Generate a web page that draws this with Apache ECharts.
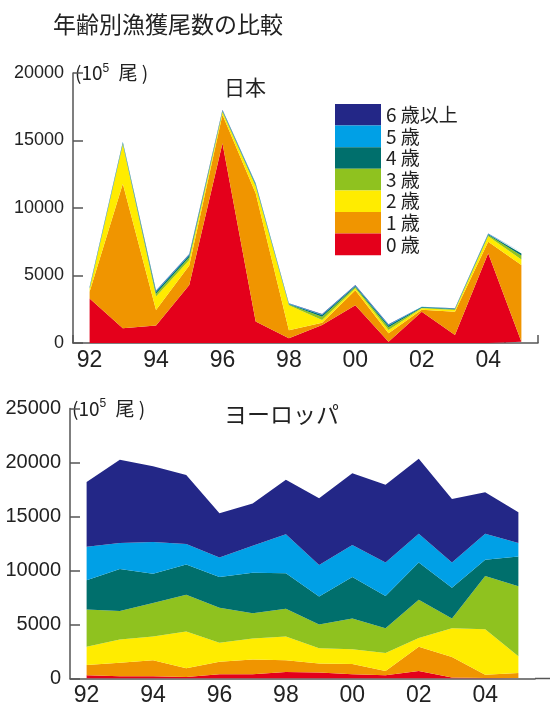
<!DOCTYPE html>
<html lang="ja">
<head>
<meta charset="utf-8">
<title>年齢別漁獲尾数の比較</title>
<script src="https://cdn.jsdelivr.net/npm/echarts@6/dist/echarts.min.js"></script>
<style>
  html, body { margin: 0; padding: 0; background: #fff; }
  #main { width: 550px; height: 711px; }
</style>
</head>
<body>
<div id="main"></div>
<script>
// 年（横軸）
var years = ['92','93','94','95','96','97','98','99','00','01','02','03','04','05'];
var ages = ['0 歳','1 歳','2 歳','3 歳','4 歳','5 歳','6 歳以上'];
var colors = ['#e4001b','#f09500','#ffec00','#8fc21f','#006f6c','#00a0e6','#232787'];

// 日本（10^5 尾）
var jp0 = [3300, 1100, 1300, 4300, 14800, 1600, 350, 1330, 2800, 100, 2320, 590, 6650, 100];
var jp1 = [500, 10700, 1150, 1450, 2100, 9500, 600, 170, 1100, 620, 150, 1730, 850, 5680];
var jp2 = [200, 2900, 1000, 400, 200, 500, 1850, 200, 150, 250, 100, 130, 400, 400];
var jp3 = [60, 80, 200, 200, 60, 80, 50, 250, 100, 200, 50, 50, 100, 300];
var jp4 = [50, 60, 150, 150, 50, 80, 40, 120, 70, 120, 40, 40, 60, 150];
var jp5 = [30, 40, 50, 60, 40, 50, 30, 50, 40, 60, 20, 20, 40, 80];
var jp6 = [20, 20, 30, 30, 30, 30, 20, 30, 30, 30, 10, 10, 20, 40];

// ヨーロッパ（10^5 尾）
var eu0 = [300, 200, 200, 150, 400, 400, 600, 550, 400, 300, 700, 100, 50, 50];
var eu1 = [950, 1250, 1500, 800, 1150, 1350, 1100, 850, 950, 400, 2250, 1900, 300, 450];
var eu2 = [1700, 2150, 2200, 3400, 1750, 1950, 2200, 1400, 1350, 1650, 800, 2650, 4200, 1550];
var eu3 = [3450, 2650, 3100, 3400, 3250, 2350, 2550, 2200, 2850, 2300, 3550, 900, 4950, 6500];
var eu4 = [2700, 3900, 2700, 2800, 2850, 3750, 3300, 2600, 3850, 3000, 3450, 2850, 1500, 2750];
var eu5 = [3100, 2400, 2950, 1900, 1800, 2500, 3600, 2900, 2950, 3100, 2650, 2350, 2400, 1250];
var eu6 = [6000, 7700, 7000, 6400, 4100, 3900, 5050, 6200, 6650, 7200, 6950, 5870, 3850, 2850];

var jpData = [jp0, jp1, jp2, jp3, jp4, jp5, jp6];
var euData = [eu0, eu1, eu2, eu3, eu4, eu5, eu6];

var numFont = 'Liberation Sans, Arial, sans-serif';
var jaFont = 'Noto Sans CJK JP, sans-serif';

var series = [];
function addSeries(data, idx, stack) {
    for (var i = 0; i < data.length; i++) {
        series.push({
            name: ages[i],
            type: 'line',
            stack: stack,
            xAxisIndex: idx,
            yAxisIndex: idx,
            data: data[i],
            symbol: 'none',
            lineStyle: { width: 0 },
            areaStyle: { color: colors[i], opacity: 1 },
            itemStyle: { color: colors[i] },
            emphasis: { disabled: true }
        });
    }
}
addSeries(jpData, 0, 'jp');
addSeries(euData, 1, 'eu');

function yAxis(idx, max, size) {
    return {
        type: 'value',
        gridIndex: idx,
        min: 0,
        max: max,
        interval: 5000,
        name: '(10{s|5} 尾 )',
        nameLocation: 'end',
        nameGap: 0,
        nameTextStyle: {
            fontFamily: jaFont, fontSize: 19, color: '#222',
            align: 'left', verticalAlign: 'middle', padding: [0, 0, 0, 2],
            rich: { s: { fontSize: 12, verticalAlign: 'top', padding: [0, 5, 9, 0], fontFamily: numFont, color: '#222' } }
        },
        splitLine: { show: false },
        axisLine: { show: true, lineStyle: { color: '#555', width: 1.5 } },
        axisTick: { show: true, inside: true, length: 10, lineStyle: { color: '#555', width: 1.5 } },
        axisLabel: {
            fontFamily: numFont, fontSize: size, color: '#222', margin: 9,
            formatter: function (v) { return String(v); }
        }
    };
}

function xAxis(idx, showTick) {
    return {
        type: 'category',
        gridIndex: idx,
        data: years,
        boundaryGap: true,
        axisLine: { show: true, lineStyle: { color: '#555', width: 1.5 } },
        axisTick: { show: showTick, inside: true, length: 8, interval: 0, lineStyle: { color: '#555', width: 1.5 } },
        axisLabel: { interval: 1, fontFamily: numFont, fontSize: 23, color: '#222', margin: 6 }
    };
}

var myChart = echarts.init(document.getElementById('main'));

myChart.setOption({
    animation: false,
    backgroundColor: '#fff',
    title: [{
        text: '年齢別漁獲尾数の比較',
        left: 48, top: 8,
        textStyle: { fontFamily: jaFont, fontSize: 23, fontWeight: 'normal', color: '#222' }
    }, {
        text: '日本',
        left: 219, top: 72,
        textStyle: { fontFamily: jaFont, fontSize: 21, fontWeight: 'normal', color: '#222' }
    }, {
        text: 'ヨーロッパ',
        left: 219, top: 398,
        textStyle: { fontFamily: jaFont, fontSize: 23, fontWeight: 'normal', color: '#222' }
    }],
    legend: {
        data: ages.slice().reverse(),
        orient: 'vertical',
        left: 330, top: 99,
        itemWidth: 46, itemHeight: 21.6, itemGap: 0,
        icon: 'rect',
        selectedMode: false,
        textStyle: { fontFamily: jaFont, fontSize: 19, lineHeight: 21.6, color: '#222' }
    },
    grid: [
        { left: 73, right: 12, top: 73, height: 270 },
        { left: 70, right: 15, top: 408.5, height: 270 }
    ],
    xAxis: [xAxis(0, true), xAxis(1, false)],
    yAxis: [yAxis(0, 20000, 18), yAxis(1, 25000, 20)],
    graphic: [{
        type: 'line',
        shape: { x1: 535, y1: 678.5, x2: 550, y2: 678.5 },
        style: { stroke: '#555', lineWidth: 1.5 }
    }],
    series: series
});
</script>
</body>
</html>
